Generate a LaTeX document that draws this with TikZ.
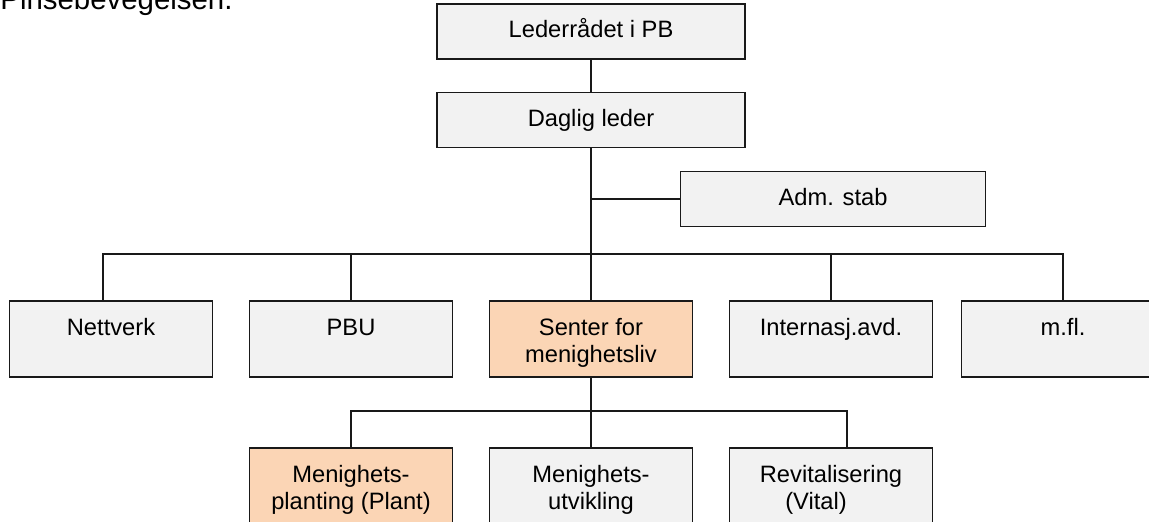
\documentclass[tikz,border=0pt]{standalone}
\usepackage{fontspec}
\setmainfont{Liberation Sans}
\usepackage{tikz}
\definecolor{linecolor}{rgb}{0.1, 0.1, 0.1}
\definecolor{boxgray}{HTML}{F2F2F2}
\definecolor{boxorange}{HTML}{FBD5B5}
\usetikzlibrary{positioning}
\newcommand{\boxfont}{\fontsize{11.85}{13.7}\selectfont}
\newcommand{\boxtext}[1]{\vbox to 23pt{\hsize=100pt\parindent=0pt\centering\strut #1\par\vss}}
\tikzset{
	topbox/.style={
		rectangle,
		draw=linecolor,
		line width=0.8pt,
		fill=boxgray,
		minimum width=154pt,
		minimum height=27.5pt,
		text height=8.6pt,
		text depth=2.4pt,
		font=\boxfont
	},
	unit/.style={
		rectangle,
		draw=linecolor,
		line width=0.8pt,
		fill=boxgray,
		minimum width=101.5pt,
		minimum height=38pt,
		inner xsep=0pt,
		inner ysep=7.5pt,
		font=\boxfont
	},
	marked/.style={
		fill=boxorange
	},
	connector/.style={
		draw=linecolor,
		line width=0.8pt
	},
}

\begin{document}
\begin{tikzpicture}[node distance=120pt,on grid]
			\useasboundingbox (0,0) rectangle (574.5pt,-261pt);
			\clip (0,0) rectangle (574.5pt,-261pt);
			\node[anchor=base west,inner sep=0pt,font=\fontsize{14.7}{17}\selectfont] (title) at (0,-5pt) {Pinsebevegelsen.};
			
			\node[topbox] (lead) at (295.5pt,-15.75pt) {Lederrådet i PB};
			\node[topbox] (daglig) [below=44.25pt of lead] {Daglig leder};
			\node[topbox,minimum width=152.5pt] (adm) [below=39.5pt of daglig,xshift=121pt] {Adm. stab};
			
			\node[unit,marked] (senter) [below=109.5pt of daglig] {\boxtext{Senter for\\menighetsliv}};
			\node[unit] (pbu) [left=of senter] {\boxtext{PBU}};
			\node[unit] (nett) [left=of pbu] {\boxtext{Nettverk}};
			\node[unit] (intl) [right=of senter] {\boxtext{Internasj.avd.}};
			\node[unit] (mfl) [right=of intl,xshift=-4pt] {\boxtext{m.fl.}};
			
			\node[unit] (utv) [below=73.5pt of senter] {\boxtext{Menighets-\\utvikling}};
			\node[unit,marked] (plant) [left=of utv] {\boxtext{Menighets-\\planting (Plant)}};
			\node[unit] (vital) [right=of utv] {\boxtext{Revitalisering\\(Vital)\hspace*{15pt}}};
			
			\coordinate[below=53pt of daglig.south] (bus);
			\coordinate[below=16.5pt of senter.south] (subbus);
			
			\draw[connector] (lead) -- (daglig);
			\draw[connector] (daglig.south) -- (senter.north);
			\draw[connector] (adm.west) -- (adm.west -| daglig.south);
			\draw[connector] ([xshift=-4pt]nett.north) |- (mfl.north |- bus) -- (mfl.north);
			\foreach \n in {pbu,intl}
				\draw[connector] (\n.north) -- (\n.north |- bus);
			\draw[connector] (senter.south) -- (utv.north);
			\draw[connector] (plant.north) |- ([xshift=8pt]vital.north |- subbus) -- ([xshift=8pt]vital.north);
			%\draw[connector] (utv.south) -- ++(0,-10pt);
\end{tikzpicture}
\end{document}
